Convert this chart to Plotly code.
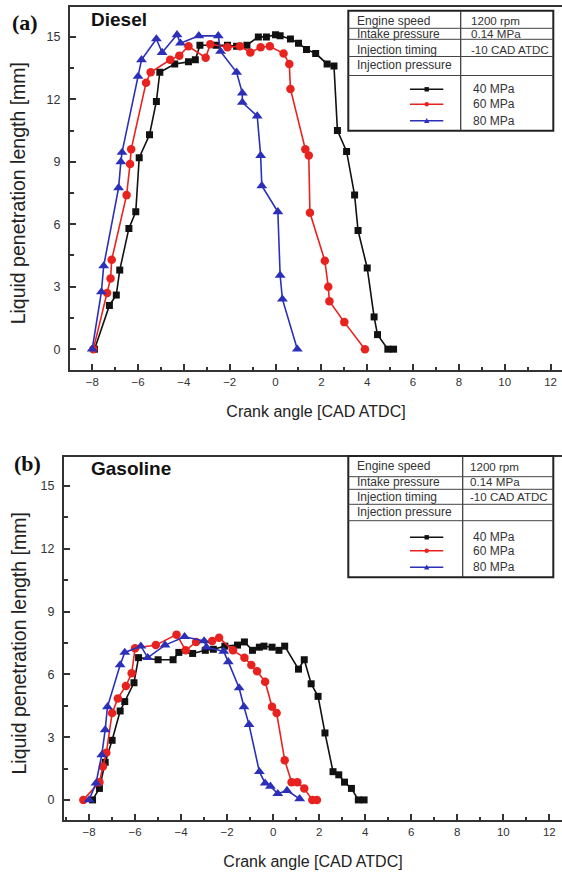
import plotly.graph_objects as go

# ---------------- data ----------------
crank_ticks = [-8, -6, -4, -2, 0, 2, 4, 6, 8, 10, 12]
length_ticks = [0, 3, 6, 9, 12, 15]
pressures = ["40 MPa", "60 MPa", "80 MPa"]
fuels = ["Diesel", "Gasoline"]
panel_tags = ["(a)", "(b)"]
cond_labels = ["Engine speed", "Intake pressure", "Injection timing", "Injection pressure"]
cond_values = ["1200 rpm", "0.14 MPa", "-10 CAD ATDC", ""]
x_title = "Crank angle [CAD ATDC]"
y_title = "Liquid penetration length [mm]"

diesel_40_x = [-7.9, -7.25, -6.95, -6.8, -6.4, -6.1, -5.95, -5.5, -5.2, -5.05, -4.4, -3.8, -3.5, -3.3,
               -2.6, -2.1, -1.7, -1.25, -0.75, -0.4, 0.0, 0.2, 0.65, 1.0, 1.35, 1.75, 2.25, 2.55, 2.7,
               3.1, 3.45, 3.6, 4.0, 4.3, 4.45, 4.9, 5.15]
diesel_40_y = [0, 2.1, 2.6, 3.8, 5.8, 6.6, 9.2, 10.3, 11.9, 13.3, 13.7, 13.8, 13.9, 14.6,
               14.6, 14.6, 14.55, 14.6, 15.0, 15.0, 15.1, 15.05, 14.9, 14.7, 14.4, 14.2, 13.7, 13.6, 10.5,
               9.5, 7.4, 5.7, 3.9, 1.55, 0.7, 0, 0]

diesel_60_x = [-7.95, -7.35, -7.2, -7.15, -6.5, -6.35, -6.3, -5.65, -5.45, -4.6, -4.2, -3.8, -3.05,
               -2.85, -2.1, -1.55, -1.1, -0.65, -0.25, 0.35, 0.6, 0.65, 1.3, 1.45, 1.5, 2.15, 2.3,
               2.35, 3.0, 3.9]
diesel_60_y = [0, 2.7, 3.4, 4.3, 7.4, 8.9, 9.6, 12.8, 13.3, 13.9, 14.1, 14.55, 14.0,
               14.65, 14.5, 14.55, 14.25, 14.5, 14.55, 14.2, 13.7, 12.5, 9.6, 9.3, 6.55, 4.25, 3.0,
               2.3, 1.3, 0]

diesel_80_x = [-8.0, -7.6, -7.5, -6.85, -6.75, -6.7, -6.0, -5.85, -5.2, -4.95, -4.3, -4.15, -3.35,
               -2.5, -2.4, -1.7, -1.45, -1.45, -0.8, -0.65, -0.6, 0.1, 0.2, 0.3, 0.95]
diesel_80_y = [0, 2.75, 4.0, 7.75, 9.0, 9.45, 13.1, 13.9, 14.9, 14.25, 15.1, 14.7, 15.05,
               15.05, 14.3, 13.3, 12.3, 11.85, 11.2, 9.3, 7.85, 6.6, 3.55, 2.4, 0]

gasoline_40_x = [-7.85, -7.55, -7.3, -7.0, -6.65, -6.45, -6.05, -5.85, -5.0, -4.35, -4.1, -3.5, -2.95,
                 -2.6, -2.1, -1.55, -1.25, -0.9, -0.6, -0.4, -0.05, 0.25, 0.5, 1.1, 1.35, 1.65, 1.95,
                 2.25, 2.6, 2.85, 3.1, 3.4, 3.7, 3.95]
gasoline_40_y = [0, 0.55, 1.8, 2.85, 4.25, 4.7, 5.6, 6.8, 6.7, 6.7, 7.05, 7.0, 7.15,
                 7.2, 7.35, 7.4, 7.55, 7.15, 7.3, 7.35, 7.3, 7.15, 7.35, 6.25, 6.7, 5.55, 4.95,
                 3.2, 1.35, 1.2, 0.85, 0.55, 0, 0]

gasoline_60_x = [-8.25, -7.55, -7.4, -7.25, -7.0, -6.75, -6.4, -6.15, -6.0, -5.1, -4.2, -3.8, -3.35,
                 -2.65, -2.35, -1.75, -1.25, -0.95, -0.7, -0.35, -0.05, 0.15, 0.5, 0.8, 1.05, 1.35,
                 1.7, 1.9]
gasoline_60_y = [0, 0.85, 1.6, 2.25, 4.15, 4.85, 5.45, 6.05, 7.25, 7.4, 7.9, 7.15, 7.55,
                 7.6, 7.75, 7.15, 6.8, 6.45, 6.15, 5.65, 4.45, 4.15, 1.9, 0.85, 0.85, 0.55,
                 0, 0]

gasoline_80_x = [-8.0, -7.7, -7.45, -7.3, -7.2, -6.65, -6.45, -5.75, -5.45, -4.7, -3.85, -3.0, -2.9,
                 -2.15, -1.95, -1.48, -1.27, -1.05, -0.6, -0.35, -0.12, 0.2, 0.6, 1.15]
gasoline_80_y = [0, 0.8, 2.15, 3.35, 4.45, 6.45, 7.05, 7.35, 6.8, 7.4, 7.8, 7.6, 7.3,
                 7.1, 6.6, 5.35, 4.45, 3.6, 1.35, 0.8, 0.65, 0.3, 0.45, 0.05]

series = {
    "Diesel": [(diesel_40_x, diesel_40_y), (diesel_60_x, diesel_60_y), (diesel_80_x, diesel_80_y)],
    "Gasoline": [(gasoline_40_x, gasoline_40_y), (gasoline_60_x, gasoline_60_y),
                 (gasoline_80_x, gasoline_80_y)],
}

# ---------------- style ----------------
colors = ["#111111", "#e8231f", "#2c30b8"]
symbols = ["square", "circle", "triangle-up"]
msizes = [7, 8.5, 9.5]
SANS = "Liberation Sans, Arial, sans-serif"
SERIF = "Liberation Serif, Times New Roman, serif"
AX = "#333333"

W, H = 562, 872
ML, MR, MT, MB = 64, 0, 6, 52
PW = W - ML - MR
PH = H - MT - MB


def fx(p):
    return (p - ML) / PW


def fy(p):
    return (H - MB - p) / PH


panels = [
    dict(left=70, top=6.7, bottom=370, xr=[-8.97, 12.5], yr=[-1.0, 16.45],
         box=(348.3, 10.7, 553.3, 130.7), div=460.7, hl=[28.3, 39.3, 56.5, 75.5],
         ty=[20.5, 34.0, 49.5, 65.5], vx=468.5, ly=[89.3, 104.3, 120.7],
         tag=(25, 22), fuel=(89, 20)),
    dict(left=64, top=457, bottom=820, xr=[-9.09, 12.55], yr=[-0.96, 16.39],
         box=(348.3, 456, 553.3, 577.3), div=462.7, hl=[476.7, 489.3, 504.3, 520.7],
         ty=[466, 481.7, 496.7, 511.7], vx=468.3, ly=[537.3, 550.7, 567.3],
         tag=(27, 463), fuel=(89, 468)),
]

fig = go.Figure()
shapes = []
annotations = []

for i, (fuel, pan) in enumerate(zip(fuels, panels)):
    xa = "x" if i == 0 else "x2"
    ya = "y" if i == 0 else "y2"
    for j, (xs, ys) in enumerate(series[fuel]):
        fig.add_trace(go.Scatter(
            x=xs, y=ys, mode="lines+markers", xaxis=xa, yaxis=ya, showlegend=False,
            name=pressures[j],
            line=dict(color=colors[j], width=1.6),
            marker=dict(symbol=symbols[j], size=msizes[j], color=colors[j],
                        line=dict(width=0)),
        ))

    xkey = "xaxis" if i == 0 else "xaxis2"
    ykey = "yaxis" if i == 0 else "yaxis2"
    fig.update_layout({
        xkey: dict(
            domain=[fx(pan["left"]), 1], range=pan["xr"], anchor=ya,
            tickmode="array", tickvals=crank_ticks,
            ticks="inside", ticklen=6, tickwidth=1.5, tickcolor=AX,
            minor=dict(ticks="inside", ticklen=3.5, tickwidth=1.5, tickcolor=AX,
                       tickmode="linear", tick0=-9, dtick=1),
            showline=True, linewidth=2, linecolor=AX, mirror=True,
            showgrid=False, zeroline=False,
            tickfont=dict(family=SANS, size=11.5, color=AX),
            title=dict(text=x_title, font=dict(family=SANS, size=16, color="#222"), standoff=19),
        ),
        ykey: dict(
            domain=[fy(pan["bottom"]), min(1, fy(pan["top"]))], range=pan["yr"], anchor=xa,
            tickmode="array", tickvals=length_ticks,
            ticks="inside", ticklen=6, tickwidth=1.5, tickcolor=AX,
            minor=dict(ticks="inside", ticklen=3.5, tickwidth=1.5, tickcolor=AX,
                       tickmode="linear", tick0=0, dtick=1.5),
            showline=True, linewidth=2, linecolor=AX, mirror=False,
            showgrid=False, zeroline=False, ticklabelstandoff=5,
            tickfont=dict(family=SANS, size=12.5, color=AX),
        ),
    })

    annotations.append(dict(
        text=y_title, textangle=-90, xref="paper", yref="paper",
        x=fx(18), y=fy((pan["top"] + pan["bottom"]) / 2 + 5), showarrow=False,
        font=dict(family=SANS, size=19.5, color="#222"), xanchor="center", yanchor="middle"))
    annotations.append(dict(
        text="<b>%s</b>" % panel_tags[i], xref="paper", yref="paper",
        x=fx(pan["tag"][0]), y=fy(pan["tag"][1]), showarrow=False,
        font=dict(family=SERIF, size=22, color="#111"), xanchor="center", yanchor="middle"))
    annotations.append(dict(
        text="<b>%s</b>" % fuel, xref="paper", yref="paper",
        x=fx(pan["fuel"][0]), y=fy(pan["fuel"][1]), showarrow=False,
        font=dict(family=SANS, size=19, color="#111"), xanchor="left", yanchor="middle"))

    x0, y0, x1, y1 = pan["box"]
    shapes.append(dict(type="rect", xref="paper", yref="paper",
                       x0=fx(x0), x1=fx(x1), y0=fy(y1), y1=fy(y0),
                       line=dict(color="#222", width=2), fillcolor="white", layer="above"))
    shapes.append(dict(type="line", xref="paper", yref="paper",
                       x0=fx(pan["div"]), x1=fx(pan["div"]), y0=fy(y1), y1=fy(y0),
                       line=dict(color="#333", width=1.2), layer="above"))
    for h in pan["hl"]:
        shapes.append(dict(type="line", xref="paper", yref="paper",
                           x0=fx(x0), x1=fx(x1), y0=fy(h), y1=fy(h),
                           line=dict(color="#444", width=1), layer="above"))
    for k, (lab, val) in enumerate(zip(cond_labels, cond_values)):
        annotations.append(dict(
            text=lab, xref="paper", yref="paper", x=fx(x0 + 6.5), y=fy(pan["ty"][k]),
            showarrow=False, xanchor="left", yanchor="middle",
            font=dict(family=SANS, size=12, color="#333")))
        if val:
            annotations.append(dict(
                text=val, xref="paper", yref="paper", x=fx(pan["vx"]), y=fy(pan["ty"][k]),
                showarrow=False, xanchor="left", yanchor="middle",
                font=dict(family=SANS, size=11.6, color="#333")))
    for j, name in enumerate(pressures):
        yy = pan["ly"][j]
        shapes.append(dict(type="line", xref="paper", yref="paper",
                           x0=fx(410), x1=fx(443.3), y0=fy(yy), y1=fy(yy),
                           line=dict(color=colors[j], width=1.6), layer="above"))
        cx, cy, r = 426.7, yy, 2.2
        if j == 0:
            shapes.append(dict(type="rect", xref="paper", yref="paper",
                               x0=fx(cx - r), x1=fx(cx + r), y0=fy(cy + r), y1=fy(cy - r),
                               line=dict(width=0), fillcolor=colors[j], layer="above"))
        elif j == 1:
            shapes.append(dict(type="circle", xref="paper", yref="paper",
                               x0=fx(cx - r), x1=fx(cx + r), y0=fy(cy + r), y1=fy(cy - r),
                               line=dict(width=0), fillcolor=colors[j], layer="above"))
        else:
            path = "M %f %f L %f %f L %f %f Z" % (fx(cx - r - 0.5), fy(cy + r), fx(cx + r + 0.5), fy(cy + r),
                                                 fx(cx), fy(cy - r - 0.5))
            shapes.append(dict(type="path", xref="paper", yref="paper", path=path,
                               line=dict(width=0), fillcolor=colors[j], layer="above"))
        annotations.append(dict(
            text=name, xref="paper", yref="paper", x=fx(471), y=fy(yy),
            showarrow=False, xanchor="left", yanchor="middle",
            font=dict(family=SANS, size=12, color="#333")))

fig.update_layout(
    width=W, height=H,
    margin=dict(l=ML, r=MR, t=MT, b=MB),
    paper_bgcolor="white", plot_bgcolor="white",
    shapes=shapes, annotations=annotations,
    showlegend=False,
)

fig.write_html("out.html", config={"displayModeBar": False},
               post_script="document.body.style.margin='0px';document.body.style.overflow='hidden';")
